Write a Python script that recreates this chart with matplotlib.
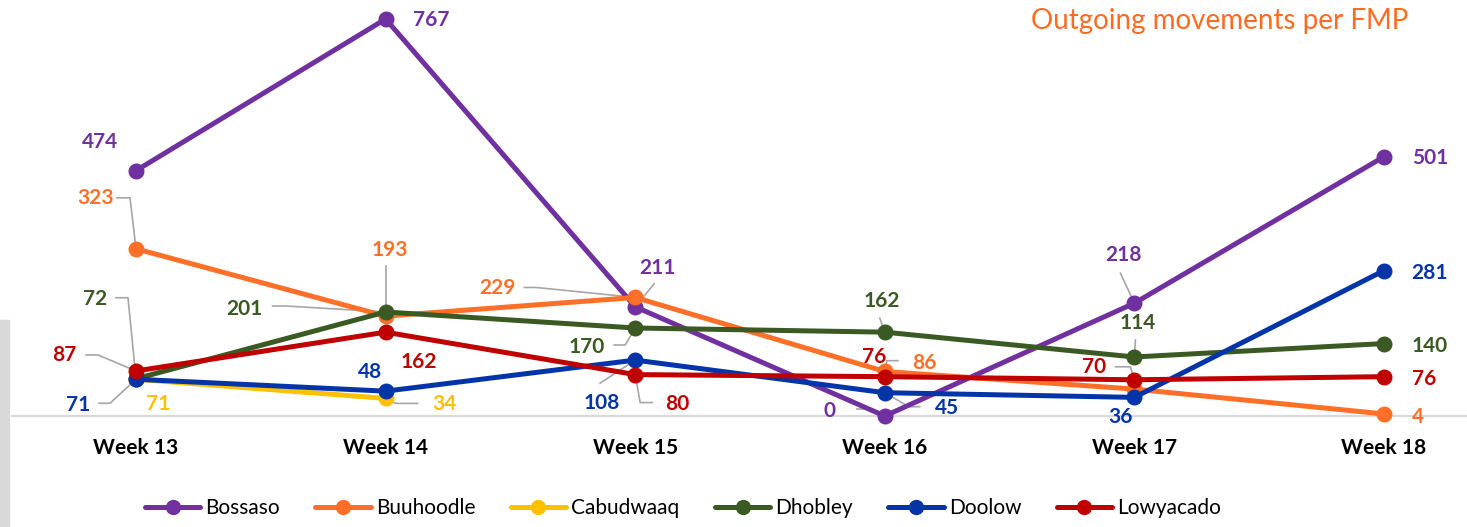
import numpy as np
import matplotlib
matplotlib.use("Agg")
import matplotlib.pyplot as plt
from matplotlib.lines import Line2D
from matplotlib.patches import Rectangle

# ---------------- data ----------------
weeks = ["Week 13", "Week 14", "Week 15", "Week 16", "Week 17", "Week 18"]
series_names = ["Bossaso", "Buuhoodle", "Cabudwaaq", "Dhobley", "Doolow", "Lowyacado"]
bossaso = [474, 767, 211, 0, 218, 501]
buuhoodle = [323, 193, 229, 86, 52, 4]
cabudwaaq = [71, 34, np.nan, np.nan, np.nan, np.nan]
dhobley = [72, 201, 170, 162, 114, 140]
doolow = [71, 48, 108, 45, 36, 281]
lowyacado = [87, 162, 80, 76, 70, 76]
title = "Outgoing movements per FMP"

values = [bossaso, buuhoodle, cabudwaaq, dhobley, doolow, lowyacado]

# ---------------- styles ----------------
colors = ["#7030A0", "#FF6F28", "#FFC000", "#3B5A23", "#0435A8", "#C00000"]

# label placement: (dx, dy) pixel offset of label centre from marker (image y down),
# optional leader polyline (pixel offsets, ending at the marker); None = no label
label_pos = {
    "Bossaso": [((-36, -29), None), ((46, 1), None),
                ((22, -39), [(19, -23), (0, 0)]),
                ((-55, -5), [(-28, -7), (-17, -7), (0, 0)]),
                ((-11, -48), [(-14, -30), (0, 0)]),
                ((46, 1), None)],
    "Buuhoodle": [((-40, -51), [(-19, -51), (-6, -51), (0, 0)]),
                  ((4, -66), [(0, -50), (0, 0)]),
                  ((-138, -9), [(-111, -10), (-99, -10), (0, 0)]),
                  ((40, -8), None),
                  None,
                  ((34, 3), None)],
    "Cabudwaaq": [((22, 25), None),
                  ((59, 6), [(32, 5), (10, 5), (0, 0)]),
                  None, None, None, None],
    "Dhobley": [((-41, -80), [(-20, -81), (-8, -81), (0, 0)]),
                ((-141, -3), [(-113, -6), (-100, -6), (0, 0)]),
                ((-48, 19), [(-21, 17), (-10, 17), (0, 0)]),
                ((-3, -31), [(-5, -14), (0, 0)]),
                ((3, -34), [(1, -17), (0, 0)]),
                ((46, 2), None)],
    "Doolow": [((-58, 26), [(-37, 24), (-26, 24), (0, 0)]),
               ((-16, -19), None),
               ((-33, 43), [(-35, 23), (0, 0)]),
               ((62, 15), [(35, 14), (24, 14), (0, 0)]),
               ((-14, 20), None),
               ((46, 2), None)],
    "Lowyacado": [((-72, -16), [(-50, -16), (-38, -16), (0, 0)]),
                  ((33, 30), None),
                  ((42, 29), [(17, 28), (5, 28), (0, 0)]),
                  ((-11, -20), [(13, -16), (2, -16), (0, 0)]),
                  ((-40, -13), [(-19, -13), (-4, -13), (0, 0)]),
                  ((40, 2), None)],
}

W, H, DPI = 1467, 527, 100
fig = plt.figure(figsize=(W / DPI, H / DPI), dpi=DPI)
ax = fig.add_axes([0, 0, 1, 1])
ax.set_axis_off()

x0_px, step_px = 136.0, 249.6
zero_px, px_per_unit = 416.0, 0.5176
ax.set_xlim(-x0_px / step_px, (W - x0_px) / step_px)
ax.set_ylim((zero_px - H) / px_per_unit, zero_px / px_per_unit)

x = np.arange(len(weeks))

# baseline
ax.plot([-0.5, ax.get_xlim()[1]], [0, 0], color="#D9D9D9", lw=1.6, zorder=1,
        solid_capstyle="butt")

# grey strip on the left
fig.patches.append(Rectangle((0, 0), 9 / W, 207 / H, transform=fig.transFigure,
                             color="#D9D9D9", zorder=0))

label_font = dict(family="Lato", weight="bold", size=15)

inv = ax.transData.inverted()
for k, (name, vals, col) in enumerate(zip(series_names, values, colors)):
    ax.plot(x, vals, color=col, lw=3.6, marker="o", ms=10.5, zorder=3 + k,
            solid_capstyle="round", solid_joinstyle="round")
    for i, v in enumerate(vals):
        spec = label_pos[name][i]
        if spec is None or np.isnan(v):
            continue
        (dx, dy), leader = spec
        ax.annotate(f"{int(v)}", xy=(i, v), xytext=(dx, -dy),
                    textcoords="offset pixels", ha="center", va="center",
                    color=col, zorder=20, **label_font)
        if leader:
            base = ax.transData.transform((i, v))
            pts = np.array([base + np.array([ox, -oy]) for ox, oy in leader])
            dpts = inv.transform(pts)
            ax.plot(dpts[:, 0], dpts[:, 1], color="#A6A6A6", lw=1.2, zorder=2)

# category labels
for i, w in enumerate(weeks):
    ax.annotate(w, xy=(i, 0), xytext=(0, -32), textcoords="offset pixels",
                ha="center", va="center", color="black",
                family="Lato", weight="bold", size=15)

# title
fig.text(1408 / W, 1 - 21 / H, title, ha="right", va="center",
         color="#FF6B1F", family="Lato", size=20)

# legend
handles = [Line2D([], [], color=c, lw=3.6, marker="o", ms=10, solid_capstyle="round")
           for c in colors]
leg = fig.legend(handles, series_names, ncol=6, loc="center",
                 bbox_to_anchor=(683 / W, 1 - 508 / H), frameon=False,
                 prop=dict(family="Lato", size=15), handlelength=2.65,
                 handletextpad=0.25, columnspacing=1.7)

fig.savefig("out.png", dpi=DPI)
